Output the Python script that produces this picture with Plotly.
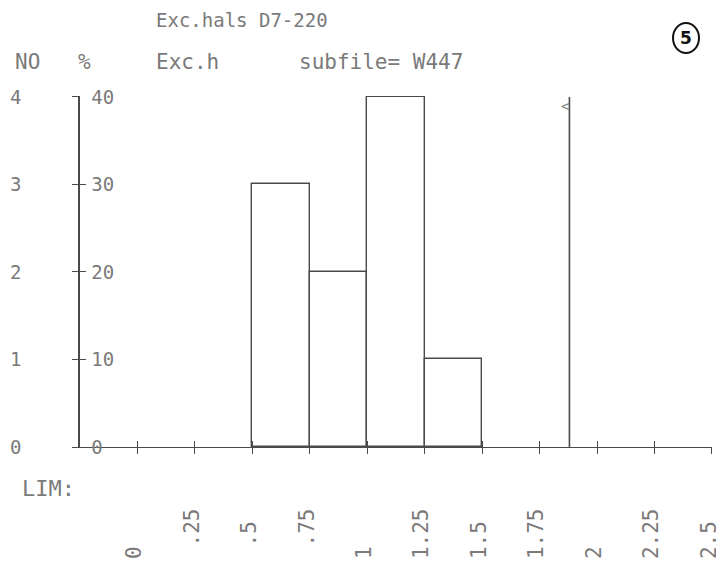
import plotly.graph_objects as go

# ---- data ----
bin_left = [0.5, 0.75, 1.0, 1.25]          # left edges of occupied classes
bin_counts = [3, 2, 4, 1]                   # NO (number of observations)
bin_width = 0.25
marker_value = 1.88                         # vertical marker line (subfile value)
marker_height = 4

x_tick_values = [0, 0.25, 0.5, 0.75, 1.0, 1.25, 1.5, 1.75, 2.0, 2.25, 2.5]
x_tick_labels = ["0", ".25", ".5", ".75", "1", "1.25", "1.5", "1.75", "2", "2.25", "2.5"]
x_all_ticks = [-0.25] + x_tick_values

count_ticks = [0, 1, 2, 3, 4]
count_labels = ["0", "1", "2", "3", "4"]
pct_ticks = [0, 10, 20, 30, 40]
pct_labels = ["0", "10", "20", "30", "40"]

title_line1 = "Exc.hals D7-220"
header_no = "NO"
header_pct = "%"
header_var = "Exc.h"
header_sub = "subfile= W447"
lim_label = "LIM:"
page_mark = "5"

# ---- style ----
INK = "#4a4a4a"
TXT = "#7a7a7a"
FONT = "DejaVu Sans Mono"

# page body has an 8px margin: figure is drawn from (8, 8) of the window
OFF = 8
W, H = 724 - OFF, 569 - OFF
PL, PR, PT, PB = 80 - OFF, 724 - 712, 96 - OFF, 569 - 447
PW, PH = W - PL - PR, H - PT - PB


def pad_label(s):
    # decimal-aligned: integer part at bottom, fraction above (rotated text)
    if "." in s:
        ip, fp = s.split(".")
    else:
        ip, fp = s, ""
    ip = ip if ip else "\u00a0"
    body = ip + ("." + fp if fp else "")
    return body + "\u00a0" * (4 - len(body))


def px(xw):  # window px -> paper x
    return (xw - OFF - PL) / PW


def py(yw):  # window px -> paper y
    return 1 - (yw - OFF - PT) / PH


fig = go.Figure()

fig.add_trace(go.Bar(
    x=bin_left, y=bin_counts, width=[bin_width] * len(bin_left), offset=0,
    marker=dict(color="rgba(255,255,255,0)", line=dict(color=INK, width=1.4)),
    cliponaxis=False, hoverinfo="skip", showlegend=False,
))

fig.add_trace(go.Scatter(
    x=[marker_value, marker_value], y=[0, marker_height], mode="lines",
    line=dict(color=INK, width=1.6), cliponaxis=False,
    hoverinfo="skip", showlegend=False,
))
fig.add_trace(go.Scatter(
    x=[marker_value], y=[marker_height * 0.97], mode="text", text=["<"],
    textposition="middle left", textfont=dict(family=FONT, size=14, color=TXT),
    hoverinfo="skip", showlegend=False,
))
# invisible trace to activate the % axis
fig.add_trace(go.Scatter(x=[None], y=[None], yaxis="y2", xaxis="x2",
                         showlegend=False, hoverinfo="skip"))

fig.update_layout(
    width=W, height=H,
    margin=dict(l=PL, r=PR, t=PT, b=PB, autoexpand=False),
    paper_bgcolor="white", plot_bgcolor="white",
    bargap=0,
    xaxis=dict(
        range=[-0.25, 2.5005], tickvals=x_tick_values,
        ticktext=[pad_label(s) for s in x_tick_labels],
        tickangle=-90, ticks="outside", ticklen=6, tickwidth=1.4, tickcolor=INK,
        showline=True, linecolor=INK, linewidth=1.2, showgrid=False, zeroline=False,
        tickfont=dict(family=FONT, size=21, color=TXT), ticklabelstandoff=46,
        ticklabelshift=-3, ticklabeloverflow="allow", automargin=False,
    ),
    xaxis2=dict(
        range=[-0.25, 2.5005], overlaying="x", anchor="y", side="bottom",
        tickvals=x_all_ticks, showticklabels=False,
        ticks="inside", ticklen=6, tickwidth=1.4, tickcolor=INK,
        showline=False, showgrid=False, zeroline=False, automargin=False,
    ),
    yaxis=dict(
        range=[0, 4.01], tickvals=count_ticks, ticktext=count_labels,
        ticks="outside", ticklen=6, tickwidth=1.4, tickcolor=INK,
        showline=True, linecolor=INK, linewidth=1.6, showgrid=False, zeroline=False,
        tickfont=dict(family=FONT, size=19, color=TXT), ticklabelstandoff=47,
        ticklabeloverflow="allow", automargin=False,
    ),
    yaxis2=dict(
        range=[0, 40.1], overlaying="y", anchor="x", side="left",
        tickvals=pct_ticks, ticktext=pct_labels, ticklabelposition="inside",
        ticks="inside", ticklen=6, tickwidth=1.4, tickcolor=INK,
        showline=False, showgrid=False, zeroline=False, automargin=False,
        tickfont=dict(family=FONT, size=19, color=TXT), ticklabelstandoff=6,
        ticklabeloverflow="allow",
    ),
)

anns = [
    dict(text=title_line1, x=154, y=20, size=19),
    dict(text=header_no, x=13, y=62, size=21),
    dict(text=header_pct, x=76, y=62, size=21),
    dict(text=header_var, x=154, y=62, size=21),
    dict(text=header_sub, x=297, y=62, size=21),
    dict(text=lim_label, x=20, y=488, size=22),
]
for a in anns:
    fig.add_annotation(
        text=a["text"], xref="paper", yref="paper",
        x=px(a["x"]), y=py(a["y"]),
        xanchor="left", yanchor="middle", showarrow=False,
        font=dict(family=FONT, size=a["size"], color=TXT),
    )

# handwritten circled page number
cx, cy = 686, 38
fig.add_annotation(
    text="<b>" + page_mark + "</b>", xref="paper", yref="paper",
    x=px(cx), y=py(cy), xanchor="center", yanchor="middle",
    showarrow=False, font=dict(family="DejaVu Sans", size=17, color="#111"),
)
fig.add_shape(
    type="circle", xref="paper", yref="paper",
    x0=px(cx - 13), x1=px(cx + 13),
    y0=py(cy + 15), y1=py(cy - 15),
    line=dict(color="#111", width=2),
)

fig.write_html("out.html")
